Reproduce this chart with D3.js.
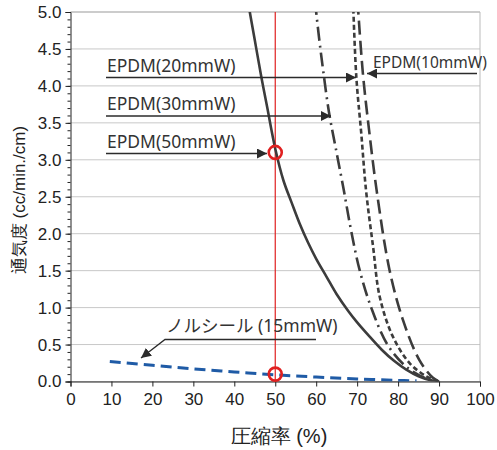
<!DOCTYPE html>
<html>
<head>
<meta charset="utf-8">
<script src="https://cdn.jsdelivr.net/npm/d3@7"></script>
<style>
  body { margin: 0; background: #fff; }
  text { font-family: "Liberation Sans", Arial, sans-serif; fill: #222; }
  .lbl { font-family: "Noto Sans", "Noto Sans CJK JP", sans-serif; fill: #333; }
</style>
</head>
<body>
<script>
// data (x = compression %, y = cc/min./cm)
const xTicks = [0, 10, 20, 30, 40, 50, 60, 70, 80, 90, 100];
const yTicks = [0, 0.5, 1, 1.5, 2, 2.5, 3, 3.5, 4, 4.5, 5];

const epdm50 = [[43.3, 5.15], [45, 4.62], [46.6, 4.12], [48, 3.72], [50, 3.15], [52, 2.72], [54, 2.42],
  [56, 2.13], [58, 1.88], [60, 1.66], [62.5, 1.42], [65, 1.18], [68, 0.94], [70, 0.8], [73, 0.61],
  [76, 0.43], [79, 0.28], [82, 0.16], [85, 0.07], [87.7, 0.02], [90, 0]];
const epdm30 = [[59.7, 5.15], [60.7, 4.65], [61.7, 4.21], [63.1, 3.65], [64.8, 3.15], [66.7, 2.6],
  [68.5, 2.05], [70.6, 1.51], [73.5, 0.99], [77.5, 0.49], [82, 0.2], [86.9, 0.04], [90, 0]];
const epdm20 = [[69, 5.15], [69.8, 4.12], [71, 3.36], [72.2, 2.57], [73.9, 1.82], [75.5, 1.15],
  [78.7, 0.61], [82.8, 0.25], [86.9, 0.07], [90, 0]];
const epdm10 = [[70.1, 5.15], [71.4, 4.17], [73, 3.36], [74.8, 2.57], [77.9, 1.51], [81.2, 0.83],
  [85.2, 0.29], [88.5, 0.05], [90, 0]];
const norseal = [[9.6, 0.27], [20, 0.22], [30, 0.17], [40, 0.13], [50, 0.09], [60, 0.06], [70, 0.035],
  [80, 0.015], [84.5, 0.01]];

const marks = [[50, 3.1], [50, 0.1]];

const width = 497;
const height = 450;
const margin = { top: 12, right: 17, bottom: 68.5, left: 70.5 };

const x = d3.scaleLinear().domain([0, 100]).range([margin.left, width - margin.right]);
const y = d3.scaleLinear().domain([0, 5]).range([height - margin.bottom, margin.top]);

const svg = d3.select('body').append('svg')
  .attr('width', width)
  .attr('height', height);

const defs = svg.append('defs');
defs.append('clipPath').attr('id', 'plot')
  .append('rect')
  .attr('x', x(0)).attr('y', y(5))
  .attr('width', x(100) - x(0)).attr('height', y(0) - y(5));
defs.append('marker')
  .attr('id', 'arr')
  .attr('viewBox', '0 0 10 10')
  .attr('refX', 10).attr('refY', 5)
  .attr('markerWidth', 10).attr('markerHeight', 10)
  .attr('markerUnits', 'userSpaceOnUse')
  .attr('orient', 'auto')
  .append('path').attr('d', 'M0,0L10,5L0,10z').attr('fill', '#2b2b2b');

// grid
svg.append('g')
  .selectAll('line')
  .data(yTicks)
  .join('line')
  .attr('x1', x(0)).attr('x2', x(100))
  .attr('y1', d => y(d)).attr('y2', d => y(d))
  .attr('stroke', d => d === 5 ? '#999' : '#c8c8c8')
  .attr('stroke-width', 1);
svg.append('line')
  .attr('x1', x(100)).attr('x2', x(100))
  .attr('y1', y(0)).attr('y2', y(5))
  .attr('stroke', '#bbb');

// axes
svg.append('g')
  .attr('transform', `translate(0,${y(0)})`)
  .call(d3.axisBottom(x).tickValues(xTicks).tickSize(5).tickPadding(6));
const yMinor = svg.append('g')
  .attr('transform', `translate(${x(0)},0)`)
  .call(d3.axisLeft(y).ticks(50).tickSize(3).tickFormat(''));
yMinor.select('.domain').remove();
svg.append('g')
  .attr('transform', `translate(${x(0)},0)`)
  .call(d3.axisLeft(y).tickValues(yTicks).tickSize(5).tickPadding(4).tickFormat(d3.format('.1f')));

svg.selectAll('.tick text').attr('font-size', 17).attr('font-family', '"Liberation Sans", Arial, sans-serif').attr('fill', '#222');
svg.selectAll('.domain, .tick line').attr('stroke', '#222');

// red reference line at 50%
svg.append('line')
  .attr('x1', x(50)).attr('x2', x(50))
  .attr('y1', y(5)).attr('y2', y(0))
  .attr('stroke', '#e02020').attr('stroke-width', 1.2);

const line = d3.line()
  .x(d => x(d[0]))
  .y(d => y(d[1]))
  .curve(d3.curveCatmullRom.alpha(0.5));

const plot = svg.append('g').attr('clip-path', 'url(#plot)');

plot.append('path').datum(norseal)
  .attr('d', line).attr('fill', 'none')
  .attr('stroke', '#1f5ba6').attr('stroke-width', 3).attr('stroke-dasharray', '11,6');

const series = [
  { data: epdm50, dash: null },
  { data: epdm30, dash: '14,5,2,5' },
  { data: epdm20, dash: '5,3' },
  { data: epdm10, dash: '14,6' }
];
plot.selectAll('.curve')
  .data(series)
  .join('path')
  .attr('class', 'curve')
  .attr('d', d => line(d.data))
  .attr('fill', 'none')
  .attr('stroke', '#3c3c3c')
  .attr('stroke-width', 2.6)
  .attr('stroke-dasharray', d => d.dash);

svg.selectAll('.mark')
  .data(marks)
  .join('circle')
  .attr('class', 'mark')
  .attr('cx', d => x(d[0])).attr('cy', d => y(d[1]))
  .attr('r', 6.5)
  .attr('fill', 'none')
  .attr('stroke', '#e02020').attr('stroke-width', 2.6);

// annotations
const notes = [
  { text: 'EPDM(20mmW)', tx: 107, ty: 72, x1: 106, y1: 77.5, x2: 356, y2: 77.5 },
  { text: 'EPDM(30mmW)', tx: 107, ty: 110, x1: 106, y1: 116, x2: 331, y2: 116 },
  { text: 'EPDM(50mmW)', tx: 107, ty: 148, x1: 106, y1: 153.5, x2: 267, y2: 153.5 },
  { text: 'EPDM(10mmW)', tx: 373, ty: 68, x1: 477, y1: 73.5, x2: 367, y2: 73.5 }
];
const ann = svg.append('g');
ann.selectAll('line')
  .data(notes)
  .join('line')
  .attr('x1', d => d.x1).attr('y1', d => d.y1)
  .attr('x2', d => d.x2).attr('y2', d => d.y2)
  .attr('stroke', '#2b2b2b').attr('stroke-width', 1.3)
  .attr('marker-end', 'url(#arr)');
ann.selectAll('text')
  .data(notes)
  .join('text')
  .attr('class', 'lbl')
  .attr('x', d => d.tx).attr('y', d => d.ty)
  .attr('font-size', d => d.tx > 300 ? 15.5 : 17.5)
  .text(d => d.text);

ann.append('path')
  .attr('d', 'M316,339.5L165,339.5L141,358')
  .attr('fill', 'none')
  .attr('stroke', '#2b2b2b').attr('stroke-width', 1.3)
  .attr('marker-end', 'url(#arr)');
ann.append('text')
  .attr('class', 'lbl')
  .attr('x', 166).attr('y', 332)
  .attr('font-size', 17.5)
  .text('ノルシール (15mmW)');

// axis titles
svg.append('text')
  .attr('x', 279).attr('y', 443)
  .attr('text-anchor', 'middle')
  .attr('font-size', 20)
  .attr('font-family', '"Liberation Sans", "Noto Sans CJK JP", sans-serif')
  .text('圧縮率 (%)');
svg.append('text')
  .attr('transform', 'translate(25,200) rotate(-90)')
  .attr('text-anchor', 'middle')
  .attr('font-size', 17)
  .attr('font-family', '"Liberation Sans", "Noto Sans CJK JP", sans-serif')
  .text('通気度 (cc/min./cm)');
</script>
</body>
</html>
